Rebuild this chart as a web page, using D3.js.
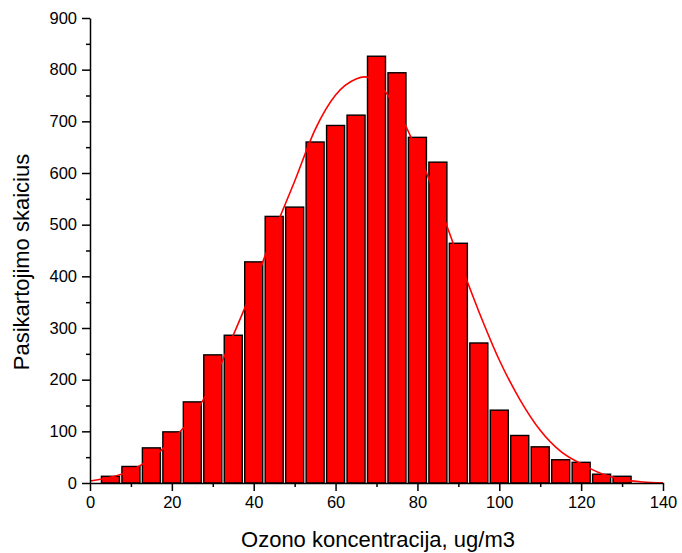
<!DOCTYPE html>
<html>
<head>
<meta charset="utf-8">
<script src="https://cdn.jsdelivr.net/npm/d3@7"></script>
<style>
  body { margin: 0; background: #fff; }
  svg { display: block; }
  text { font-family: "Liberation Sans", Arial, sans-serif; fill: #000; }
</style>
</head>
<body>
<svg width="682" height="553"></svg>
<script>
// histogram bins (centre of each 5 ug/m3 class) and counts
var binCentres = [5, 10, 15, 20, 25, 30, 35, 40, 45, 50, 55, 60, 65, 70, 75, 80, 85, 90, 95, 100, 105, 110, 115, 120, 125, 130];
var counts = [13, 32, 68, 99, 157, 248, 286, 428, 516, 534, 660, 692, 712, 826, 794, 669, 621, 464, 271, 141, 92, 70, 45, 40, 17, 13];

// fitted curve
var fitX = [0, 5, 10, 15, 20, 25, 30, 35, 40, 45, 50, 55, 60, 65, 67, 70, 75, 80, 85, 90, 95, 100, 105, 110, 115, 120, 125, 130, 135, 140];
var fitY = [4, 11, 24, 48, 83, 128, 195, 286, 381, 487, 584, 684, 751, 782, 786, 775, 724, 641, 545, 436, 332, 238, 162, 102, 61, 37, 18, 7, 2, 0.5];

var xTicks = [0, 20, 40, 60, 80, 100, 120, 140];
var yTicks = [0, 100, 200, 300, 400, 500, 600, 700, 800, 900];

var svg = d3.select("svg");

var x = d3.scaleLinear().domain([0, 140]).range([90, 663]);
var y = d3.scaleLinear().domain([0, 900]).range([483, 18]);

var halfBar = 2.2;

// bars
svg.append("g")
  .selectAll("rect")
  .data(binCentres)
  .enter().append("rect")
    .attr("x", function(d) { return x(d - halfBar); })
    .attr("width", function(d) { return x(d + halfBar) - x(d - halfBar); })
    .attr("y", function(d, i) { return y(counts[i]); })
    .attr("height", function(d, i) { return y(0) - y(counts[i]); })
    .attr("fill", "#ff0000")
    .attr("stroke", "#000")
    .attr("stroke-width", 1.4);

// fit line
var line = d3.line()
  .x(function(d) { return x(d); })
  .y(function(d, i) { return y(fitY[i]); })
  .curve(d3.curveMonotoneX);

svg.append("path")
  .attr("d", line(fitX))
  .attr("fill", "none")
  .attr("stroke", "#ff0000")
  .attr("stroke-width", 1.6);

// minor ticks first, then major axes on top
svg.append("g")
  .attr("transform", "translate(0,483)")
  .call(d3.axisBottom(x).tickValues(d3.range(10, 140, 20)).tickSize(4).tickFormat(""))
  .call(function(g) { g.select(".domain").remove(); });

svg.append("g")
  .attr("transform", "translate(90,0)")
  .call(d3.axisLeft(y).tickValues(d3.range(50, 900, 100)).tickSize(4).tickFormat(""))
  .call(function(g) { g.select(".domain").remove(); });

var xAxis = svg.append("g")
  .attr("transform", "translate(0,483)")
  .call(d3.axisBottom(x).tickValues(xTicks).tickSize(8).tickSizeOuter(0).tickPadding(5));

var yAxis = svg.append("g")
  .attr("transform", "translate(90,0)")
  .call(d3.axisLeft(y).tickValues(yTicks).tickSize(8).tickSizeOuter(0).tickPadding(5));

svg.selectAll(".tick line, .domain")
  .attr("stroke", "#000")
  .attr("stroke-width", 1.5);

[xAxis, yAxis].forEach(function(a) {
  a.selectAll("text")
    .style("font-family", "'Liberation Sans', Arial, sans-serif")
    .style("font-size", "16.5px")
    .attr("fill", "#000");
});

// axis titles
svg.append("text")
  .attr("x", 378)
  .attr("y", 547)
  .attr("text-anchor", "middle")
  .style("font-size", "22px")
  .text("Ozono koncentracija, ug/m3");

svg.append("text")
  .attr("transform", "translate(29,262) rotate(-90)")
  .attr("text-anchor", "middle")
  .style("font-size", "22px")
  .text("Pasikartojimo skaicius");
</script>
</body>
</html>
